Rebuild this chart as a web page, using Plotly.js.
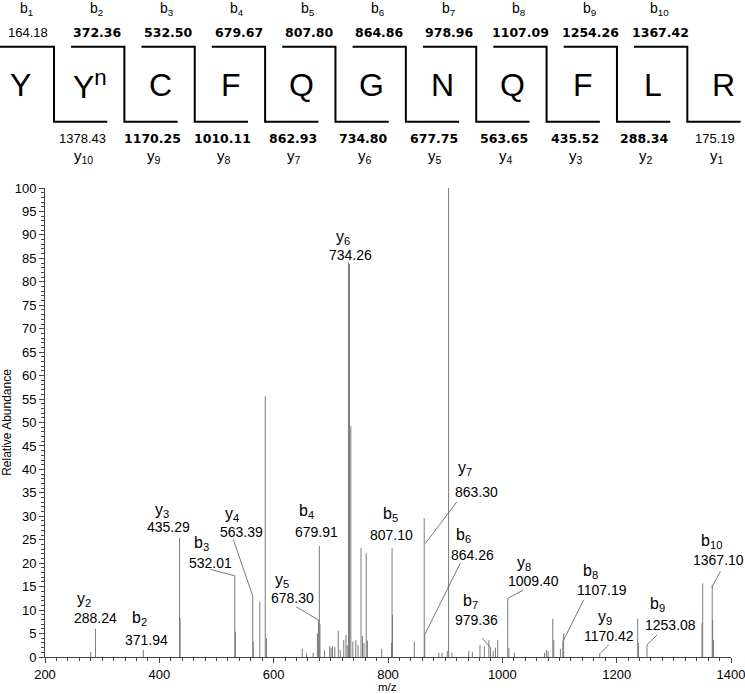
<!DOCTYPE html>
<html><head><meta charset="utf-8">
<script src="https://cdn.plot.ly/plotly-3.0.1.min.js"></script>
<style>html,body{margin:0;padding:0;background:#fff}</style>
</head><body><div id="chart" style="width:745px;height:694px"></div>
<script>
// ---------- Peptide sequence & fragment ladder ----------
const residues = ['Y','Y<sup>n</sup>','C','F','Q','G','N','Q','F','L','R'];
const bNames   = ['1','2','3','4','5','6','7','8','9','10'];
const bMasses  = ['164.18','372.36','532.50','679.67','807.80','864.86','978.96','1107.09','1254.26','1367.42'];
const bBold    = [false,true,true,true,true,true,true,true,true,true];
const yNames   = ['10','9','8','7','6','5','4','3','2','1'];
const yMasses  = ['1378.43','1170.25','1010.11','862.93','734.80','677.75','563.65','435.52','288.34','175.19'];
const yBold    = [false,true,true,true,true,true,true,true,true,false];

// ---------- Spectrum peaks (m/z, relative abundance) ----------
const peakMz  = [280.0,288.24,371.94,435.29,436.3,532.01,532.9,563.39,564.3,575.8,585.3,587.5,
  650.0,657.7,669.0,676.5,678.30,679.91,681.0,689.0,698.0,700.5,703.0,707.0,713.0,716.5,722.6,726.5,728.5,
  730.8,732.6,735.0,738.5,743.6,747.5,752.8,755.4,758.0,761.9,764.0,789.0,806.0,807.10,808.0,846.0,
  863.30,864.26,889.0,894.6,903.7,906.0,911.7,941.3,947.5,960.9,968.5,976.5,979.36,984.0,988.0,992.0,
  1009.40,1011.6,1021.0,1074.0,1077.0,1080.0,1088.3,1090.0,1101.5,1105.8,1107.19,1170.42,1236.8,1238.2,
  1253.08,1349.3,1350.5,1367.10,1368.0,1369.5];
const peakInt = [1.1,6.0,1.5,25.4,8.3,17.3,5.4,13.0,3.3,11.8,55.6,4.0,
  1.8,0.8,0.9,5.0,7.9,23.7,7.0,1.4,2.3,2.0,2.3,2.1,5.6,1.5,3.6,4.7,2.5,
  84.2,83.8,49.2,3.3,3.6,2.6,23.2,4.5,3.0,22.1,3.5,1.7,3.0,23.2,9.0,3.3,
  29.6,4.9,0.9,0.9,1.3,100,0.9,1.3,1.1,2.6,2.3,3.6,2.0,1.3,2.0,3.6,
  12.5,1.9,0.9,0.9,1.5,1.3,8.2,3.6,1.7,3.5,5.0,0.8,8.2,3.0,
  2.6,7.2,15.7,15.4,7.9,3.6];

// ---------- Annotated ions ----------
const ionType = ['y','b','y','b','y','b','y','b','y','y','b','b','y','b','y','b','b'];
const ionNum  = ['2','2','3','3','4','4','5','5','6','7','6','7','8','8','9','9','10'];
const ionMass = ['288.24','371.94','435.29','532.01','563.39','679.91','678.30','807.10','734.26',
                 '863.30','864.26','979.36','1009.40','1107.19','1170.42','1253.08','1367.10'];

// label placement (layout only): [ionX, ionY, numX, numY, leader x0,y0,x1,y1 | null]
const labelPos = [
  [267.7,12.2, 288.4,8.3, null],
  [365.1,8.3, 378.0,3.6, null],
  [404.3,31.3, 415.8,27.7, null],
  [474.3,24.2, 488.8,20.0, [489.2,18.7,532.01,17.3]],
  [526.8,30.3, 544.3,26.7, [529.6,25.0,563.39,13.0]],
  [656.9,31.0, 674.4,26.7, null],
  [614.3,16.4, 633.6,12.5, [639.3,10.7,678.3,7.9]],
  [803.9,30.3, 806.9,26.0, null],
  [722.0,89.5, 734.0,85.8, null],
  [935.2,40.2, 955.6,35.2, [920.6,33.1,865.2,24.2]],
  [932.2,26.0, 948.6,21.7, [926.4,20.0,864.8,4.9]],
  [943.9,11.8, 955.6,7.9, [965.0,4.0,979.36,2.0]],
  [1037.2,20.0, 1054.7,16.1, [1037.0,14.3,1009.4,12.5]],
  [1154.0,18.2, 1174.5,14.3, [1142.3,12.2,1107.19,3.6]],
  [1180.2,8.5, 1186.0,4.5, [1186.0,2.6,1171.5,0.8]],
  [1270.7,11.1, 1294.0,6.8, [1270.7,4.7,1253.08,2.6]],
  [1365.7,24.6, 1378.0,20.7, [1381.5,18.2,1367.1,15.0]]
];

// ---------- layout constants ----------
const FONT = 'Liberation Sans, Arial, Helvetica, sans-serif';
const step = 70.37;              // px per residue
const x2range = [-20/step, 725/step];
const bnd = 34/step, topStart = -19.3/step, botLen = 53.3/step;
const yTop = 46.7, yBot = 121.7;

// peaks trace
const px = [], py = [];
peakMz.forEach((m,i)=>{ px.push(m,m,null); py.push(0,peakInt[i],null); });
const peaks = {x:px, y:py, mode:'lines', line:{color:'#7a7a7a', width:1}, hoverinfo:'skip', xaxis:'x', yaxis:'y'};

// leader trace
const lx = [], ly = [];
labelPos.forEach(p=>{ if(p[4]){ lx.push(p[4][0],p[4][2],null); ly.push(p[4][1],p[4][3],null);} });
const leaders = {x:lx, y:ly, mode:'lines', line:{color:'#555', width:0.8}, hoverinfo:'skip', xaxis:'x', yaxis:'y'};

// bracket trace
const bx = [], by = [];
for (let i=0;i<residues.length-1;i++){
  const s = i===0 ? x2range[0] : i+topStart;
  bx.push(s, i+bnd, i+bnd, i+bnd+botLen, null);
  by.push(yTop, yTop, yBot, yBot, null);
}
const brackets = {x:bx, y:by, mode:'lines', line:{color:'#000', width:2}, hoverinfo:'skip', xaxis:'x2', yaxis:'y2'};

const ann = [];
residues.forEach((r,i)=>ann.push({xref:'x2',yref:'y2',x:i,y:85,text:r,showarrow:false,
  font:{family:FONT,size:32,color:'#000'},xanchor:'center',yanchor:'middle'}));
bNames.forEach((n,i)=>{
  ann.push({xref:'x2',yref:'y2',x:i+0.09,y:9,text:'b<sub>'+n+'</sub>',showarrow:false,
    font:{family:FONT,size:14,color:'#000'},xanchor:'center',yanchor:'middle'});
  ann.push({xref:'x2',yref:'y2',x:i+0.107,y:32.5,text:bBold[i]?'<b>'+bMasses[i]+'</b>':bMasses[i],showarrow:false,
    font:{family:bBold[i]?'DejaVu Sans, sans-serif':FONT,size:bBold[i]?12.5:13,color:'#000'},xanchor:'center',yanchor:'middle'});
});
yNames.forEach((n,i)=>{
  ann.push({xref:'x2',yref:'y2',x:i+0.881,y:138.5,text:yBold[i]?'<b>'+yMasses[i]+'</b>':yMasses[i],showarrow:false,
    font:{family:yBold[i]?'DejaVu Sans, sans-serif':FONT,size:yBold[i]?12.5:13,color:'#000'},xanchor:'center',yanchor:'middle'});
  ann.push({xref:'x2',yref:'y2',x:i+0.9,y:156,text:'y<sub>'+n+'</sub>',showarrow:false,
    font:{family:FONT,size:15,color:'#000'},xanchor:'center',yanchor:'middle'});
});
ionType.forEach((t,i)=>{
  const p = labelPos[i];
  ann.push({xref:'x',yref:'y',x:p[0],y:p[1],text:t+'<sub>'+ionNum[i]+'</sub>',showarrow:false,
    font:{family:FONT,size:16,color:'#000'},xanchor:'center',yanchor:'middle',borderpad:0});
  ann.push({xref:'x',yref:'y',x:p[2],y:p[3],text:ionMass[i],showarrow:false,
    font:{family:FONT,size:14,color:'#000'},xanchor:'center',yanchor:'middle',borderpad:0});
});
// x-axis title
ann.push({xref:'paper',yref:'paper',x:388/745,y:(694-686.5)/694,text:'m/z',showarrow:false,
  font:{family:FONT,size:11.5,color:'#000'},xanchor:'center',yanchor:'middle',borderpad:0});

const layout = {
  width:745, height:694, margin:{l:0,r:0,t:0,b:0},
  paper_bgcolor:'#fff', plot_bgcolor:'rgba(0,0,0,0)',
  showlegend:false, hovermode:false,
  font:{family:FONT, color:'#000'},
  xaxis:{domain:[45/745,731/745], range:[200,1400], showline:true, linecolor:'#444', linewidth:1,
    ticks:'outside', ticklen:5, tickcolor:'#444', tick0:0, dtick:200, showgrid:false, zeroline:false,
    minor:{dtick:20, ticks:'outside', ticklen:3, tickcolor:'#444', showgrid:false},
    tickfont:{size:13, family:FONT}, automargin:false, ticklabeloverflow:'allow', anchor:'y'},
  yaxis:{domain:[37/694,506/694], range:[0,100], showline:true, linecolor:'#444', linewidth:1,
    ticks:'outside', ticklen:5, tickcolor:'#444', tick0:0, dtick:5, showgrid:false, zeroline:false,
    minor:{dtick:1, ticks:'outside', ticklen:3, tickcolor:'#444', showgrid:false},
    tickfont:{size:13, family:FONT}, automargin:false, ticklabeloverflow:'allow',
    title:{text:'Relative Abundance', font:{size:12, family:FONT}, standoff:4}, anchor:'x'},
  xaxis2:{domain:[0,1], range:x2range, visible:false, anchor:'y2', fixedrange:true},
  yaxis2:{domain:[(694-225)/694,1], range:[225,0], visible:false, anchor:'x2', fixedrange:true},
  annotations:ann
};
Plotly.newPlot('chart',[peaks,leaders,brackets],layout,{staticPlot:true,displayModeBar:false});
</script></body></html>
